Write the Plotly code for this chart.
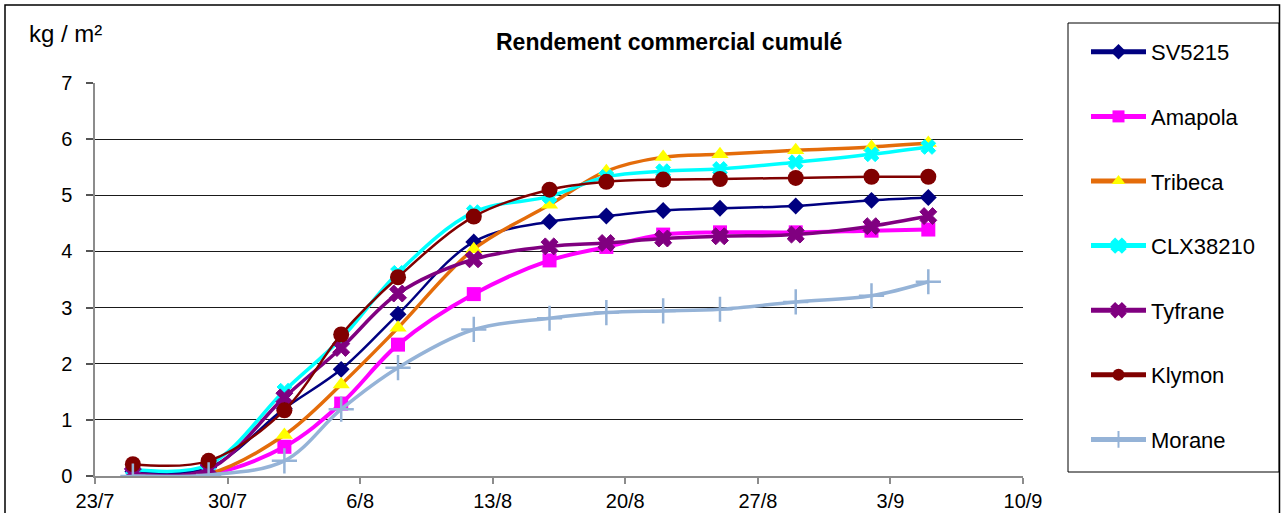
import plotly.graph_objects as go

dates = ["2014-07-25", "2014-07-29", "2014-08-02", "2014-08-05", "2014-08-08",
         "2014-08-12", "2014-08-16", "2014-08-19", "2014-08-22", "2014-08-25",
         "2014-08-29", "2014-09-02", "2014-09-05"]

sv5215 = [0.08, 0.15, 1.20, 1.90, 2.88, 4.17, 4.53, 4.63, 4.73, 4.77, 4.81, 4.91, 4.96]
amapola = [0.00, 0.03, 0.52, 1.29, 2.34, 3.24, 3.84, 4.08, 4.30, 4.34, 4.34, 4.37, 4.39]
tribeca = [0.02, 0.04, 0.73, 1.63, 2.64, 4.04, 4.83, 5.43, 5.68, 5.73, 5.80, 5.86, 5.93]
clx38210 = [0.12, 0.20, 1.52, 2.45, 3.62, 4.70, 4.98, 5.33, 5.43, 5.47, 5.59, 5.73, 5.86]
tyfrane = [0.05, 0.12, 1.40, 2.28, 3.25, 3.86, 4.09, 4.15, 4.23, 4.27, 4.30, 4.45, 4.63]
klymon = [0.21, 0.27, 1.17, 2.52, 3.54, 4.62, 5.10, 5.24, 5.28, 5.29, 5.31, 5.33, 5.33]
morane = [0.00, 0.02, 0.27, 1.19, 1.93, 2.61, 2.81, 2.91, 2.94, 2.97, 3.10, 3.21, 3.46]

series_names = ["SV5215", "Amapola", "Tribeca", "CLX38210", "Tyfrane", "Klymon", "Morane"]
series_values = [sv5215, amapola, tribeca, clx38210, tyfrane, klymon, morane]

x_tick_dates = ["2014-07-23", "2014-07-30", "2014-08-06", "2014-08-13",
                "2014-08-20", "2014-08-27", "2014-09-03", "2014-09-10"]
x_tick_labels = ["23/7", "30/7", "6/8", "13/8", "20/8", "27/8", "3/9", "10/9"]

styles = {
    "SV5215": dict(line=dict(color="#000080", width=2.5),
                   marker=dict(symbol="diamond", size=13, color="#000080")),
    "Amapola": dict(line=dict(color="#FF00FF", width=4),
                    marker=dict(symbol="square", size=14, color="#FF00FF")),
    "Tribeca": dict(line=dict(color="#E46C0A", width=3.5),
                    marker=dict(symbol="triangle-up", size=15, color="#FFFF00")),
    "CLX38210": dict(line=dict(color="#00FFFF", width=3.5),
                     marker=dict(symbol="x", size=13, color="#00FFFF",
                                 line=dict(color="#00FFFF", width=1))),
    "Tyfrane": dict(line=dict(color="#800080", width=3.5),
                    marker=dict(symbol="x", size=15, color="#800080",
                                line=dict(color="#800080", width=1))),
    "Klymon": dict(line=dict(color="#800000", width=2.5),
                   marker=dict(symbol="circle", size=16, color="#800000")),
    "Morane": dict(line=dict(color="#95B3D7", width=3.5),
                   marker=dict(symbol="cross-thin", size=18, color="#95B3D7",
                               line=dict(color="#95B3D7", width=2.5))),
}

FONT = "Arial, Liberation Sans, sans-serif"

fig = go.Figure()
for i, (name, vals) in enumerate(zip(series_names, series_values)):
    st = styles[name]
    fig.add_trace(go.Scatter(
        x=dates, y=vals, name=name, mode="lines+markers",
        line=dict(shape="spline", smoothing=1, **st["line"]),
        marker=st["marker"], legendgroup=f"g{i}",
    ))

# plot area: x 95..1023, y 83..476
L, R, T, B = 95, 1023, 83, 476
W, H = R - L, B - T

def px(x):
    return (x - L) / W

def py(y):
    return (B - y) / H

fig.update_layout(
    width=1281, height=513,
    margin=dict(l=L, r=1281 - R, t=T, b=513 - B, pad=0, autoexpand=False),
    paper_bgcolor="white", plot_bgcolor="white",
    font=dict(family=FONT, size=20, color="black"),
    showlegend=True,
    legend=dict(
        x=px(1086), y=py(31), xanchor="left", yanchor="top",
        font=dict(family=FONT, size=22, color="black"),
        tracegroupgap=33, itemwidth=55, bgcolor="rgba(0,0,0,0)",
        borderwidth=0, itemsizing="constant", maxheight=800,
    ),
    xaxis=dict(
        type="date", automargin=False,
        range=["2014-07-23", "2014-09-10"],
        tickvals=x_tick_dates, ticktext=x_tick_labels,
        showgrid=False, zeroline=False,
        showline=True, linecolor="#8c8c8c", linewidth=1.5,
        ticks="outside", ticklen=6, tickcolor="#8c8c8c", tickwidth=1.5,
        tickfont=dict(family=FONT, size=20, color="black"),
        ticklabelstandoff=0,
    ),
    yaxis=dict(
        range=[0, 7], dtick=1, tick0=0, automargin=False,
        showgrid=True, gridcolor="#1a1a1a", gridwidth=1,
        zeroline=False,
        showline=True, linecolor="#8c8c8c", linewidth=1.5,
        ticks="outside", ticklen=7, tickcolor="#555555", tickwidth=1.5,
        tickfont=dict(family=FONT, size=20, color="black"),
        ticklabelstandoff=10,
    ),
    annotations=[
        dict(text="<b>Rendement commercial cumulé</b>", xref="paper", yref="paper",
             x=px(669), y=py(42), xanchor="center", yanchor="middle",
             showarrow=False, font=dict(family=FONT, size=23, color="black")),
        dict(text="kg / m²", xref="paper", yref="paper",
             x=px(27), y=py(33), xanchor="left", yanchor="middle",
             showarrow=False, font=dict(family=FONT, size=24, color="black")),
    ],
    shapes=[
        # outer chart border
        dict(type="rect", xref="paper", yref="paper",
             x0=px(5), x1=px(1279.5), y0=py(520), y1=py(5),
             line=dict(color="black", width=1.5), layer="below"),
        # legend box
        dict(type="rect", xref="paper", yref="paper",
             x0=px(1068), x1=px(1279), y0=py(472), y1=py(23),
             line=dict(color="black", width=1), layer="below"),
    ],
)

fig.write_html(
    "out.html",
    config={"displayModeBar": False},
    post_script="document.body.style.margin='0px';document.body.style.overflow='hidden';",
)
